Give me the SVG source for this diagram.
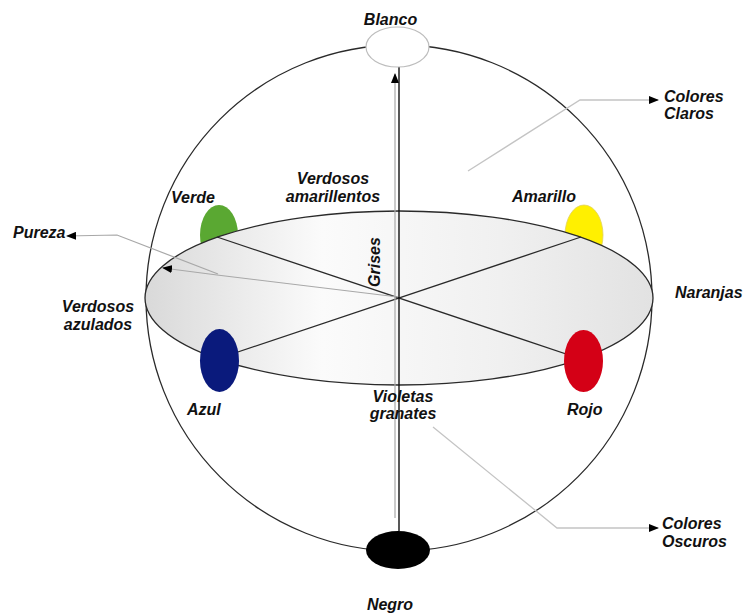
<svg xmlns="http://www.w3.org/2000/svg" width="744" height="615" viewBox="0 0 744 615">
<defs>
<linearGradient id="eqg" x1="0" y1="0" x2="1" y2="0">
<stop offset="0" stop-color="#d9d9d9"/>
<stop offset="0.35" stop-color="#fbfbfb"/>
<stop offset="0.7" stop-color="#f0f0f0"/>
<stop offset="1" stop-color="#e2e2e2"/>
</linearGradient>
<marker id="ah" markerWidth="10" markerHeight="8" refX="9" refY="4" orient="auto" markerUnits="userSpaceOnUse">
<path d="M0,0 L10,4 L0,8 Z" fill="#000"/>
</marker>
</defs>
<style>
text{font-family:"Liberation Sans",Arial,sans-serif;font-weight:bold;font-style:italic;font-size:16px;fill:#111}
.dark{fill:none;stroke:#2a2a2a;stroke-width:1.3}
.lead{fill:none;stroke:#c4c4c4;stroke-width:1.3}
.lead2{fill:none;stroke:#a8a8a8;stroke-width:1.2}
</style>
<g id="sphere"><circle cx="399" cy="298" r="253" class="dark"/></g>
<g id="verde"><ellipse cx="219" cy="235" rx="19" ry="30" fill="#5aa832"/></g>
<g id="amarillo"><ellipse cx="584" cy="235" rx="19" ry="30" fill="#fff000" stroke="#e0d060" stroke-width="0.8"/></g>
<g id="equator"><ellipse cx="399" cy="298" rx="254" ry="87" fill="url(#eqg)" stroke="#2a2a2a" stroke-width="1.3"/></g>
<g id="connectors">
<line x1="217" y1="237" x2="581" y2="359" class="dark"/>
<line x1="581" y1="237" x2="217" y2="359" class="dark"/>
<line x1="395" y1="518" x2="395" y2="74" class="lead2" marker-end="url(#ah)"/>
<line x1="399" y1="531" x2="399" y2="67" stroke="#111" stroke-width="1.4"/>
<polyline points="468,171 580,100 658,100" class="lead" marker-end="url(#ah)"/>
<polyline points="433,427 557,528 658,528" class="lead" marker-end="url(#ah)"/>
<polyline points="218,274 117,235 67,236" class="lead2" marker-end="url(#ah)"/>
<polyline points="398,297 217,275 163,268" class="lead2" marker-end="url(#ah)"/>
</g>
<g id="azul"><ellipse cx="219.5" cy="360.5" rx="19.5" ry="31.5" fill="#0a1a7c"/></g>
<g id="rojo"><ellipse cx="583.5" cy="361" rx="19.5" ry="31" fill="#d40016"/></g>
<g id="blanco"><ellipse cx="397.5" cy="47" rx="31.5" ry="20" fill="#fff" stroke="#bdbdbd" stroke-width="1.2"/></g>
<g id="negro"><ellipse cx="398" cy="550" rx="32" ry="19" fill="#000"/></g>
<g id="labels">
<text x="390.5" y="25" text-anchor="middle">Blanco</text>
<text x="664" y="102">Colores</text>
<text x="664" y="119">Claros</text>
<text x="333" y="184" text-anchor="middle">Verdosos</text>
<text x="333" y="202" text-anchor="middle">amarillentos</text>
<text x="171" y="203">Verde</text>
<text x="512" y="202">Amarillo</text>
<text x="13" y="238">Pureza</text>
<text transform="translate(380,262) rotate(-90)" text-anchor="middle">Grises</text>
<text x="98" y="312" text-anchor="middle">Verdosos</text>
<text x="98" y="330" text-anchor="middle">azulados</text>
<text x="675" y="298">Naranjas</text>
<text x="187" y="415">Azul</text>
<text x="567" y="415">Rojo</text>
<text x="403" y="402" text-anchor="middle">Violetas</text>
<text x="403" y="419" text-anchor="middle">granates</text>
<text x="662" y="529">Colores</text>
<text x="662" y="547">Oscuros</text>
<text x="390" y="610" text-anchor="middle">Negro</text>
</g>
</svg>
